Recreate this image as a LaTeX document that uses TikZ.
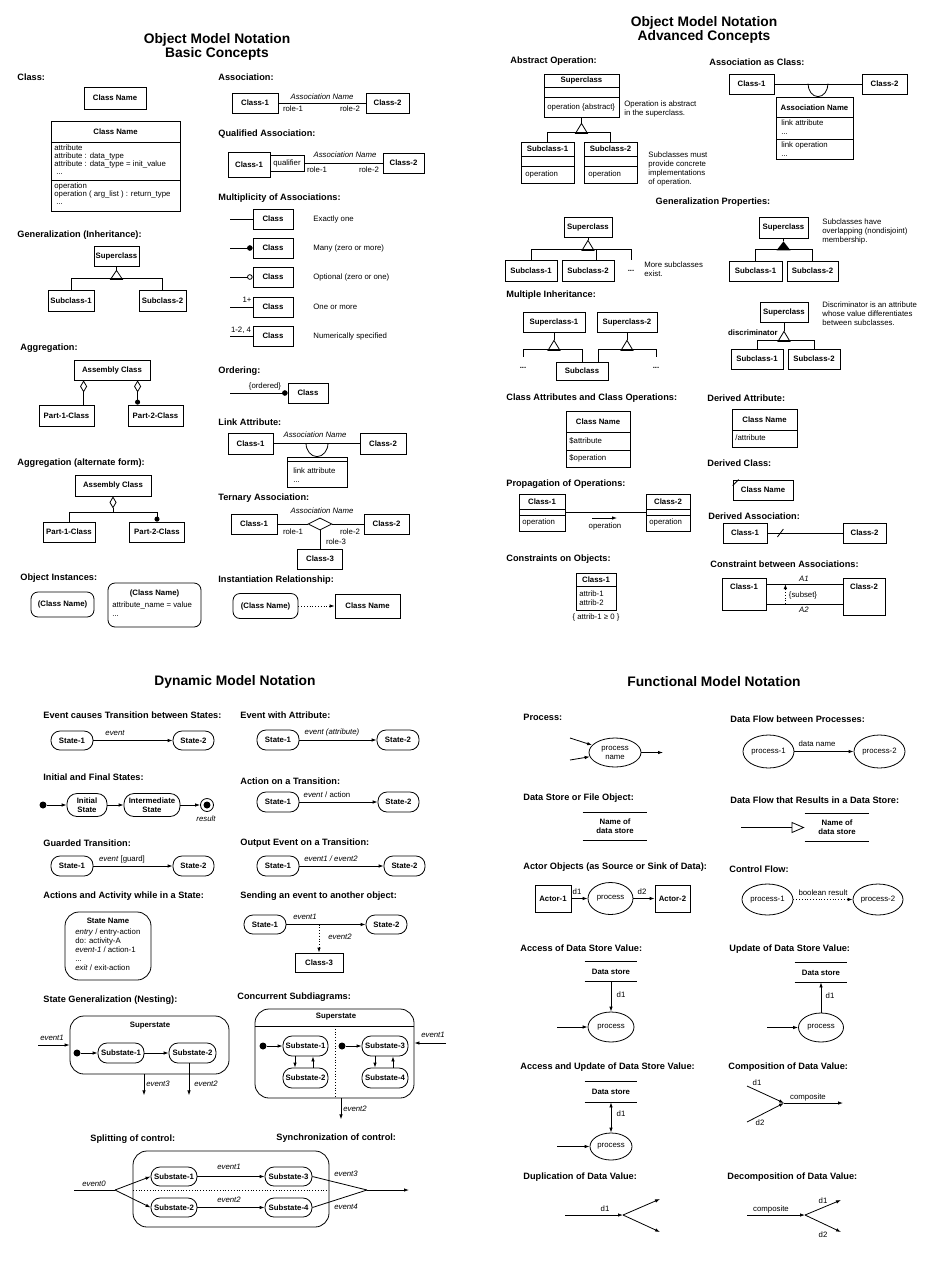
\documentclass[tikz,border=0pt]{standalone}
\usepackage{fontspec}
\setmainfont{Liberation Sans}
\usepackage{tikz}
\usetikzlibrary{arrows.meta,shapes,positioning}

\begin{document}
\begin{tikzpicture}[
        x=1pt, y=-1pt,
        line width=.8pt,
        >={Latex[length=5pt,width=3.5pt]},
        ttl/.style={align=center, inner sep=0pt, font=\bfseries\fontsize{13.8}{14}\selectfont},
        heading/.style={anchor=west, inner sep=0pt, font=\bfseries\fontsize{9.2}{11}\selectfont},
        classbox/.style={draw, inner sep=0pt, align=center, font=\bfseries\fontsize{7.8}{9}\selectfont},
        objbox/.style={classbox, rounded corners=7pt},
        statebox/.style={classbox, rounded corners=9pt},
        process/.style={draw, ellipse, inner sep=0pt, align=center, font=\fontsize{7.8}{9}\selectfont},
        storebox/.style={inner sep=0pt, align=center, font=\bfseries\fontsize{7.8}{9}\selectfont},
        bname/.style={inner sep=0pt, font=\bfseries\fontsize{7.8}{9}\selectfont},
        txt/.style={inner sep=0pt, align=left, font=\fontsize{7.8}{9}\selectfont},
        evt/.style={inner sep=0pt, font=\itshape\fontsize{7.8}{9}\selectfont},
        initdot/.style={circle, fill, inner sep=0pt, minimum size=7pt}
    ]

    \path[fill=white, use as bounding box] (0,0) rectangle (946,1280);

    % ===== Object Model Notation: Basic Concepts =====
    \node[ttl] (tbasic) at (217,47) {Object Model Notation\\Basic Concepts};

    % Class
    \node[heading] (hclass) at (17,77) {Class:};
    \node[classbox, minimum width=62, minimum height=22] (cname) at (115,98) {Class Name};
    \node[classbox, minimum width=129, minimum height=90] (cfull) at (115.5,166) {};
    \node[bname] (cfulln) at (115.5,131.5) {Class Name};
    \draw (51,142) -- (180,142) (51,180) -- (180,180);
    \node[txt, anchor=west, font=\fontsize{7.8}{8}\selectfont] (cattr) at (54,160)
        {attribute\\attribute : data\_type\\attribute : data\_type = init\_value\\\hspace*{2pt}...};
    \node[txt, anchor=west, font=\fontsize{7.8}{8}\selectfont] (cops) at (54,194)
        {operation\\operation ( arg\_list ) : return\_type\\\hspace*{2pt}...};

    % Association
    \node[heading] (hassoc) at (218,77) {Association:};
    \node[classbox, minimum width=46, minimum height=20] (asc1) at (255,103) {Class-1};
    \node[classbox, minimum width=43, minimum height=20] (asc2) at (387.5,103) {Class-2};
    \draw (asc1) -- (asc2);
    \node[evt] (ascname) at (322,97) {Association Name};
    \node[txt] (ascr1) at (293,109) {role-1};
    \node[txt] (ascr2) at (350,109) {role-2};

    % Qualified Association
    \node[heading] (hqual) at (218,134) {Qualified Association:};
    \node[classbox, minimum width=42, minimum height=25] (qc1) at (249,164.5) {Class-1};
    \node[draw, txt, align=center, minimum width=34, minimum height=16] (qq) at (287,163) {qualifier};
    \node[classbox, minimum width=41, minimum height=20] (qc2) at (403.5,163) {Class-2};
    \draw (qq) -- (qc2);
    \node[evt] (qname) at (345,155) {Association Name};
    \node[txt] (qr1) at (317,170) {role-1};
    \node[txt] (qr2) at (369,170) {role-2};

    % Multiplicity of Associations
    \node[heading] (hmult) at (218,198) {Multiplicity of Associations:};
    \node[classbox, minimum width=40, minimum height=20] (mone) at (273,219) {Class};
    \node[classbox, minimum width=40, minimum height=20] (mmany) at (273,248) {Class};
    \node[classbox, minimum width=40, minimum height=20] (mopt) at (273,277) {Class};
    \node[classbox, minimum width=40, minimum height=20] (mplus) at (273,307) {Class};
    \node[classbox, minimum width=40, minimum height=20] (mnum) at (273,336) {Class};
    \coordinate (mones) at (230,219);
    \coordinate (mmanys) at (230,248);
    \coordinate (mopts) at (230,277);
    \coordinate (mpluss) at (230,307);
    \coordinate (mnums) at (230,336);
    \draw (mones) -- (mone);
    \draw[-{Circle[length=5.5pt]}] (mmanys) -- (mmany);
    \draw[-{Circle[open,length=5.5pt]}] (mopts) -- (mopt);
    \draw (mpluss) -- (mplus);
    \draw (mnums) -- (mnum);
    \node[txt] (mplusl) at (247,300) {1+};
    \node[txt] (mnuml) at (241,330) {1-2, 4};
    \node[txt, anchor=west] (mdone) at (313,219) {Exactly one};
    \node[txt, anchor=west] (mdmany) at (313,248) {Many (zero or more)};
    \node[txt, anchor=west] (mdopt) at (313,277) {Optional (zero or one)};
    \node[txt, anchor=west] (mdplus) at (313,307) {One or more};
    \node[txt, anchor=west] (mdnum) at (313,336) {Numerically specified};

    % Generalization
    \node[heading] (hgen) at (17,235) {Generalization (Inheritance):};
    \node[classbox, minimum width=45, minimum height=20] (gsup) at (116.5,256) {Superclass};
    \node[classbox, minimum width=46, minimum height=21] (gsub1) at (71,300.5) {Subclass-1};
    \node[classbox, minimum width=47, minimum height=21] (gsub2) at (162.5,300.5) {Subclass-2};
    \draw (gsup.south) -- ++(0,4) coordinate (gapex);
    \draw (gapex) -- ++(-6,9) -- ++(12,0) -- cycle;
    \draw (gsub1.north) -- ++(0,-11) -| (gsub2.north);

    % Aggregation
    \node[heading] (hagg) at (20,348) {Aggregation:};
    \node[classbox, minimum width=76, minimum height=20] (agasm) at (112,370) {Assembly Class};
    \node[classbox, minimum width=55, minimum height=21] (agp1) at (66.5,415.5) {Part-1-Class};
    \node[classbox, minimum width=55, minimum height=21] (agp2) at (155.5,415.5) {Part-2-Class};
    \draw[{Diamond[open,length=12pt,width=7pt]}-] ([xshift=10pt]agasm.south west) -- ([xshift=45pt]agp1.north west);
    \draw[{Diamond[open,length=12pt,width=7pt]}-{Circle[length=5pt]}] ([xshift=64pt]agasm.south west) -- ([xshift=10pt]agp2.north west);

    % Aggregation (alternate form)
    \node[heading] (hagg2) at (17,463) {Aggregation (alternate form):};
    \node[classbox, minimum width=76, minimum height=21] (aaasm) at (113,485.5) {Assembly Class};
    \node[classbox, minimum width=52, minimum height=20] (aap1) at (69,532) {Part-1-Class};
    \node[classbox, minimum width=55, minimum height=20] (aap2) at (157,532) {Part-2-Class};
    \draw[{Diamond[open,length=12pt,width=7pt]}-] (aaasm.south) -- ++(0,16) coordinate (aajoin);
    \draw (aajoin) -| (aap1.north);
    \draw[-{Circle[length=5pt]}] (aajoin) -| (aap2.north);

    % Object Instances
    \node[heading] (hobj) at (20,578) {Object Instances:};
    \node[objbox, minimum width=63, minimum height=25] (oi1) at (62.5,604.5) {(Class Name)};
    \node[objbox, minimum width=93, minimum height=44] (oi2) at (154.5,605) {};
    \node[bname] (oi2n) at (154.5,593) {(Class Name)};
    \node[txt, anchor=west] (oi2a) at (112,609.5) {attribute\_name = value\\...};

    % Ordering
    \node[heading] (hord) at (218,371) {Ordering:};
    \node[classbox, minimum width=40, minimum height=20] (ordc) at (308,393) {Class};
    \coordinate (ords) at (230,393);
    \draw[-{Circle[length=5.5pt]}] (ords) -- (ordc);
    \node[txt] (ordl) at (265,386) {\{ordered\}};

    % Link Attribute
    \node[heading] (hlink) at (218,422) {Link Attribute:};
    \node[classbox, minimum width=45, minimum height=21] (lac1) at (250.5,443.5) {Class-1};
    \node[classbox, minimum width=46, minimum height=21] (lac2) at (383,443.5) {Class-2};
    \draw (lac1) -- (lac2);
    \node[evt] (laname) at (315,435) {Association Name};
    \node[classbox, minimum width=60, minimum height=30] (labox) at (317,472) {};
    \draw (287,461.5) -- (347,461.5);
    \node[txt, anchor=west] (latxt) at (293,475.5) {link attribute\\...};
    \draw ([xshift=-11pt,yshift=13.5pt]labox.north) arc[start angle=180, end angle=0, x radius=11, y radius=13.5];

    % Ternary Association
    \node[heading] (hter) at (218,498) {Ternary Association:};
    \node[classbox, minimum width=46, minimum height=20] (tc1) at (254,524) {Class-1};
    \node[classbox, minimum width=45, minimum height=20] (tc2) at (386.5,524) {Class-2};
    \node[draw, diamond, inner sep=0pt, minimum width=24, minimum height=12] (tdia) at (320,524) {};
    \node[classbox, minimum width=45, minimum height=20] (tc3) at (320,559) {Class-3};
    \draw (tc1) -- (tdia);
    \draw (tdia) -- (tc2);
    \draw (tdia) -- (tc3);
    \node[evt] (tname) at (322,511) {Association Name};
    \node[txt] (tr1) at (293,532) {role-1};
    \node[txt] (tr2) at (350,532) {role-2};
    \node[txt] (tr3) at (336,542) {role-3};

    % Instantiation Relationship
    \node[heading] (hinst) at (218,580) {Instantiation Relationship:};
    \node[objbox, minimum width=65, minimum height=25] (inobj) at (265.5,606) {(Class Name)};
    \node[classbox, minimum width=65, minimum height=24] (incls) at (367.5,606) {Class Name};
    \draw[->, dotted] (inobj) -- (incls);

    % ===== Object Model Notation: Advanced Concepts =====
    \node[ttl] (tadv) at (704,30) {Object Model Notation\\Advanced Concepts};

    % Abstract Operation
    \node[heading] (habs) at (510,61) {Abstract Operation:};
    \node[classbox, minimum width=75, minimum height=43] (absup) at (581.5,95.5) {};
    \node[bname] (absupn) at (581.5,80.5) {Superclass};
    \draw (544,87) -- (619,87) (544,97) -- (619,97);
    \node[txt, anchor=west] (absupo) at (547,107) {operation \{abstract\}};
    \node[txt, anchor=west] (absnote1) at (624,109) {Operation is abstract\\in the superclass.};
    \node[classbox, minimum width=53, minimum height=41] (absub1) at (547.5,162.5) {};
    \node[bname] (absub1n) at (547.5,149) {Subclass-1};
    \draw (521,156) -- (574,156) (521,166) -- (574,166);
    \node[txt, anchor=west] (absub1o) at (525,174.5) {operation};
    \node[classbox, minimum width=53, minimum height=41] (absub2) at (610.5,162.5) {};
    \node[bname] (absub2n) at (610.5,149) {Subclass-2};
    \draw (584,156) -- (637,156) (584,166) -- (637,166);
    \node[txt, anchor=west] (absub2o) at (588,174.5) {operation};
    \node[txt, anchor=west] (absnote2) at (648,169) {Subclasses must\\provide concrete\\implementations\\of operation.};
    \draw (absup.south) -- ++(0,6) coordinate (absapex);
    \draw (absapex) -- ++(-6,10) -- ++(12,0) -- cycle;
    \draw (absub1.north) -- ++(0,-9) -| (absub2.north);

    % Association as Class
    \node[heading] (hascls) at (709,62) {Association as Class:};
    \node[classbox, minimum width=45, minimum height=20] (acc1) at (751.5,84) {Class-1};
    \node[classbox, minimum width=45, minimum height=20] (acc2) at (884.5,84) {Class-2};
    \draw (acc1) -- (acc2);
    \node[classbox, minimum width=77, minimum height=62] (acbox) at (814.5,128) {};
    \node[bname] (acboxn) at (814.5,107.5) {Association Name};
    \draw (776,117) -- (853,117) (776,139) -- (853,139);
    \node[txt, anchor=west] (acattr) at (781,127.5) {link attribute\\...};
    \node[txt, anchor=west] (acop) at (781,149.5) {link operation\\...};
    \draw ([xshift=-6.5pt,yshift=13pt]acbox.north) arc[start angle=180, end angle=0, x radius=10, y radius=13];

    % Generalization Properties
    \node[heading, anchor=center] (hgprop) at (713,202) {Generalization Properties:};
    \node[classbox, minimum width=48, minimum height=20] (gpsup) at (588,227) {Superclass};
    \node[classbox, minimum width=52, minimum height=21] (gpsub1) at (531,270.5) {Subclass-1};
    \node[classbox, minimum width=52, minimum height=21] (gpsub2) at (588,270.5) {Subclass-2};
    \draw (gpsup.south) -- ++(0,3) coordinate (gpapex);
    \draw (gpapex) -- ++(-6,10) -- ++(12,0) -- cycle;
    \draw (gpsub1.north) -- ++(0,-10) -- ++(100,0) -- ++(0,10) coordinate (gpmore);
    \draw ([xshift=35pt]gpsub2.north west) -- ++(0,-10);
    \node[bname] (gpdots) at (631,271) {...};
    \node[txt, anchor=west] (gpnote) at (644,269.5) {More subclasses\\exist.};

    \node[classbox, minimum width=49, minimum height=21] (gosup) at (783.5,227.5) {Superclass};
    \node[classbox, minimum width=53, minimum height=20] (gosub1) at (755.5,271) {Subclass-1};
    \node[classbox, minimum width=51, minimum height=20] (gosub2) at (812.5,271) {Subclass-2};
    \draw (gosup.south) -- ++(0,3) coordinate (goapex);
    \fill (goapex) -- ++(-7,9) -- ++(14,0) -- cycle;
    \draw (gosub1.north) -- ++(0,-11) -| (gosub2.north);
    \node[txt, anchor=west] (gonote) at (822,231) {Subclasses have\\overlapping (nondisjoint)\\membership.};

    % Multiple Inheritance
    \node[heading] (hmulti) at (506,295) {Multiple Inheritance:};
    \node[classbox, minimum width=62, minimum height=20] (misup1) at (554,322) {Superclass-1};
    \node[classbox, minimum width=60, minimum height=20] (misup2) at (627,322) {Superclass-2};
    \node[classbox, minimum width=52, minimum height=18] (misub) at (582,371) {Subclass};
    \draw (misup1.south) -- ++(0,8) coordinate (miapex1);
    \draw (miapex1) -- ++(-6,10) -- ++(12,0) -- cycle;
    \draw (misup2.south) -- ++(0,8) coordinate (miapex2);
    \draw (miapex2) -- ++(-6,10) -- ++(12,0) -- cycle;
    \draw (misub.north) -- ++(0,-12) -- ++(-59,0) -- ++(0,7) coordinate (mimore1);
    \draw ([xshift=16pt]misub.north) -- ++(0,-12) -- ++(58,0) -- ++(0,7) coordinate (mimore2);
    \node[bname] (midots1) at (523,368) {...};
    \node[bname] (midots2) at (656,368) {...};

    \node[classbox, minimum width=48, minimum height=20] (disup) at (784,312) {Superclass};
    \node[classbox, minimum width=52, minimum height=20] (disub1) at (757,359) {Subclass-1};
    \node[classbox, minimum width=52, minimum height=20] (disub2) at (814,359) {Subclass-2};
    \draw (disup.south) -- ++(0,9) coordinate (diapex);
    \draw (diapex) -- ++(-6,10) -- ++(12,0) -- cycle;
    \draw (disub1.north) -- ++(0,-8) -| (disub2.north);
    \node[bname, anchor=east] (didisc) at (778,333) {discriminator};
    \node[txt, anchor=west] (dinote) at (822,314) {Discriminator is an attribute\\whose value differentiates\\between subclasses.};

    % Class Attributes and Class Operations
    \node[heading] (hcattr) at (506,398) {Class Attributes and Class Operations:};
    \node[classbox, minimum width=64, minimum height=56] (cacls) at (598,439) {};
    \node[bname] (caclsn) at (598,421.5) {Class Name};
    \draw (566,432) -- (630,432) (566,450) -- (630,450);
    \node[txt, anchor=west] (caattr) at (569,440.5) {\$attribute};
    \node[txt, anchor=west] (caop) at (569,458.5) {\$operation};

    % Derived Attribute
    \node[heading] (hdattr) at (707,398) {Derived Attribute:};
    \node[classbox, minimum width=65, minimum height=38] (dacls) at (764.5,428) {};
    \node[bname] (daclsn) at (764.5,419.5) {Class Name};
    \draw (732,430) -- (797,430);
    \node[txt, anchor=west] (daattr) at (735,438) {/attribute};

    % Propagation of Operations
    \node[heading] (hprop) at (506,484) {Propagation of Operations:};
    \node[classbox, minimum width=46, minimum height=37] (pocls1) at (542,512.5) {};
    \node[bname] (pocls1n) at (542,501.5) {Class-1};
    \draw (519,509) -- (565,509) (519,515) -- (565,515);
    \node[txt, anchor=west] (pocls1o) at (522,522.5) {operation};
    \node[classbox, minimum width=44, minimum height=37] (pocls2) at (668,512.5) {};
    \node[bname] (pocls2n) at (668,501.5) {Class-2};
    \draw (646,509) -- (690,509) (646,515) -- (690,515);
    \node[txt, anchor=west] (pocls2o) at (649,522.5) {operation};
    \draw (pocls1) -- (pocls2);
    \coordinate (poa) at (592,518);
    \coordinate (pob) at (617,518);
    \draw[->] (poa) -- (pob);
    \node[txt] (pol) at (605,526) {operation};

    % Derived Class
    \node[heading] (hdcls) at (707,463) {Derived Class:};
    \node[classbox, minimum width=60, minimum height=20] (dccls) at (763,490) {Class Name};
    \draw ([yshift=-6pt]dccls.north west) -- ([xshift=6pt]dccls.north west);

    % Derived Association
    \node[heading] (hdasc) at (708,516) {Derived Association:};
    \node[classbox, minimum width=44, minimum height=20] (dsc1) at (745,533) {Class-1};
    \node[classbox, minimum width=43, minimum height=20] (dsc2) at (864.5,533) {Class-2};
    \draw (dsc1) -- (dsc2);
    \draw ([xshift=10pt,yshift=-4pt]dsc1.east) -- ([xshift=16pt,yshift=4pt]dsc1.east);

    % Constraints on Objects
    \node[heading] (hcons) at (506,559) {Constraints on Objects:};
    \node[classbox, minimum width=40, minimum height=37] (cocls) at (596,591.5) {};
    \node[bname] (coclsn) at (596,579.5) {Class-1};
    \draw (576,586) -- (616,586);
    \node[txt, anchor=west] (coattr) at (579,598.5) {attrib-1\\attrib-2};
    \node[txt] (cocons) at (596,617) {\{ attrib-1 ≥ 0 \}};

    % Constraint between Associations
    \node[heading] (hcba) at (710,564) {Constraint between Associations:};
    \node[classbox, minimum width=44, minimum height=32] (cbc1) at (744,594) {};
    \node[bname] (cbc1n) at (744,587) {Class-1};
    \node[classbox, minimum width=42, minimum height=37] (cbc2) at (864,596.5) {};
    \node[bname] (cbc2n) at (864,587) {Class-2};
    \draw ([yshift=10pt]cbc1.east) -- ([yshift=12.5pt]cbc2.west);
    \draw ([yshift=-10pt]cbc1.east) -- ([yshift=-7.5pt]cbc2.west);
    \draw[->, dotted] ([xshift=19pt,yshift=-10pt]cbc1.east) -- ([xshift=19pt,yshift=10pt]cbc1.east);
    \node[evt] (cba1) at (804,579) {A1};
    \node[evt] (cba2) at (804,610) {A2};
    \node[txt] (cbsub) at (803,595) {\{subset\}};

    % ===== Dynamic Model Notation =====
    \node[ttl] (tdyn) at (235,682) {Dynamic Model Notation};

    % Event causes Transition between States
    \node[heading] (hevt) at (43,715) {Event causes Transition between States:};
    \node[statebox, minimum width=42, minimum height=19] (etst1) at (72,740.5) {State-1};
    \node[statebox, minimum width=41, minimum height=19] (etst2) at (193.5,740.5) {State-2};
    \draw[->] (etst1) -- (etst2);
    \node[evt] (etl) at (115,733) {event};

    % Event with Attribute
    \node[heading] (hevta) at (240,715) {Event with Attribute:};
    \node[statebox, minimum width=42, minimum height=20] (eatst1) at (278,740) {State-1};
    \node[statebox, minimum width=42, minimum height=20] (eatst2) at (398,740) {State-2};
    \draw[->] (eatst1) -- (eatst2);
    \node[evt] (eatl) at (332,732) {event (attribute)};

    % Initial and Final States
    \node[heading] (hinit) at (43,777) {Initial and Final States:};
    \node[initdot] (ifstart) at (43,805) {};
    \node[statebox, minimum width=40, minimum height=23, rounded corners=10pt] (ifinit) at (87,805) {Initial\\State};
    \node[statebox, minimum width=56, minimum height=23, rounded corners=10pt] (ifmid) at (152,805) {Intermediate\\State};
    \node[circle, draw, inner sep=0pt, minimum size=13pt] (ifend) at (207,805) {};
    \fill (ifend) circle (3.5);
    \draw[->] (ifstart) -- (ifinit);
    \draw[->] (ifinit) -- (ifmid);
    \draw[->] (ifmid) -- (ifend);
    \node[evt] (ifres) at (206,819) {result};

    % Action on a Transition
    \node[heading] (hact) at (240,781) {Action on a Transition:};
    \node[statebox, minimum width=42, minimum height=20] (acst1) at (278,802) {State-1};
    \node[statebox, minimum width=41, minimum height=20] (acst2) at (398.5,802) {State-2};
    \draw[->] (acst1) -- (acst2);
    \node[txt] (acl) at (327,795) {\textit{event} / action};

    % Guarded Transition
    \node[heading] (hguard) at (43,843) {Guarded Transition:};
    \node[statebox, minimum width=42, minimum height=20] (gtst1) at (72,866) {State-1};
    \node[statebox, minimum width=41, minimum height=20] (gtst2) at (193.5,866) {State-2};
    \draw[->] (gtst1) -- (gtst2);
    \node[txt] (gtl) at (122,859) {\textit{event} [guard]};

    % Output Event on a Transition
    \node[heading] (hout) at (240,843) {Output Event on a Transition:};
    \node[statebox, minimum width=42, minimum height=20] (oest1) at (278,866) {State-1};
    \node[statebox, minimum width=41, minimum height=20] (oest2) at (404.5,866) {State-2};
    \draw[->] (oest1) -- (oest2);
    \node[evt] (oel) at (331,859) {event1 / event2};

    % Actions and Activity while in a State
    \node[heading] (hactv) at (43,896) {Actions and Activity while in a State:};
    \node[statebox, minimum width=86, minimum height=68, rounded corners=14pt] (aabox) at (108,946) {};
    \node[bname] (aaname) at (108,921) {State Name};
    \node[txt, anchor=west] (aatxt) at (75,950)
        {\textit{entry} / entry-action\\do: activity-A\\\textit{event-1} / action-1\\...\\\textit{exit} / exit-action};

    % Sending an event to another object
    \node[heading] (hsend) at (240,896) {Sending an event to another object:};
    \node[statebox, minimum width=42, minimum height=19] (sest1) at (265,924.5) {State-1};
    \node[statebox, minimum width=41, minimum height=19] (sest2) at (386.5,924.5) {State-2};
    \node[classbox, minimum width=48, minimum height=19] (secls) at (319,962.5) {Class-3};
    \draw[->] (sest1) -- (sest2);
    \draw[->, dotted] (secls.north |- sest1.east) -- (secls);
    \node[evt] (sel1) at (305,917) {event1};
    \node[evt] (sel2) at (340,937) {event2};

    % State Generalization (Nesting)
    \node[heading] (hnest) at (43,1000) {State Generalization (Nesting):};
    \node[statebox, minimum width=159, minimum height=58, rounded corners=14pt] (sgbox) at (149.5,1045) {};
    \node[bname] (sgname) at (150,1026) {Superstate};
    \node[initdot] (sgdot) at (77,1053) {};
    \node[statebox, minimum width=46, minimum height=20] (sgsub1) at (121,1053) {Substate-1};
    \node[statebox, minimum width=47, minimum height=20] (sgsub2) at (192.5,1053) {Substate-2};
    \coordinate (sgin) at (38,1045);
    \draw[->] (sgin) -- (sgbox.west);
    \draw[->] (sgdot) -- (sgsub1);
    \draw[->] (sgsub1) -- (sgsub2);
    \draw[->] ([xshift=-5.5pt]sgbox.south) -- ++(0,21) coordinate (sgout3);
    \draw[->] ([xshift=-3.5pt]sgsub2.south) -- ++(0,32) coordinate (sgout2);
    \node[evt] (sgl1) at (52,1038) {event1};
    \node[evt] (sgl3) at (158,1084) {event3};
    \node[evt] (sgl2) at (206,1084) {event2};

    % Concurrent Subdiagrams
    \node[heading] (hconc) at (237,997) {Concurrent Subdiagrams:};
    \node[statebox, minimum width=159, minimum height=89, rounded corners=14pt] (csbox) at (334.5,1053.5) {};
    \node[bname] (csname) at (336,1017) {Superstate};
    \draw (255,1026) -- (414,1026);
    \draw[dotted] (335,1026) -- (335,1098);
    \node[initdot] (csdot1) at (263,1046) {};
    \node[statebox, minimum width=45, minimum height=20] (cssub1) at (305.5,1046) {Substate-1};
    \node[statebox, minimum width=45, minimum height=20] (cssub2) at (305.5,1078) {Substate-2};
    \node[initdot] (csdot2) at (342,1046) {};
    \node[statebox, minimum width=46, minimum height=20] (cssub3) at (385,1046) {Substate-3};
    \node[statebox, minimum width=46, minimum height=20] (cssub4) at (385,1078) {Substate-4};
    \draw[->] (csdot1) -- (cssub1);
    \draw[->] (csdot2) -- (cssub3);
    \draw[->] ([xshift=-10.5pt]cssub1.south) -- ([xshift=-10.5pt]cssub2.north);
    \draw[->] ([xshift=7.5pt]cssub2.north) -- ([xshift=7.5pt]cssub1.south);
    \draw[->] ([xshift=-10pt]cssub3.south) -- ([xshift=-10pt]cssub4.north);
    \draw[->] ([xshift=8pt]cssub4.north) -- ([xshift=8pt]cssub3.south);
    \coordinate (csin) at (446,1043);
    \draw[->] (csin) -- (csin -| csbox.east);
    \draw[->] ([xshift=6.5pt]csbox.south) -- ++(0,21) coordinate (csout);
    \node[evt] (csl1) at (433,1035) {event1};
    \node[evt] (csl2) at (355,1109) {event2};

    % Splitting and Synchronization of control
    \node[heading] (hsplit) at (90,1139) {Splitting of control:};
    \node[heading] (hsync) at (276,1138) {Synchronization of control:};
    \node[statebox, minimum width=196, minimum height=76, rounded corners=14pt] (spbox) at (231,1189) {};
    \draw[dotted] (133,1190) -- (329,1190);
    \node[statebox, minimum width=46, minimum height=19] (spsub1) at (174,1176.5) {Substate-1};
    \node[statebox, minimum width=47, minimum height=19] (spsub3) at (288.5,1176.5) {Substate-3};
    \node[statebox, minimum width=46, minimum height=19] (spsub2) at (174,1207.5) {Substate-2};
    \node[statebox, minimum width=47, minimum height=19] (spsub4) at (288.5,1207.5) {Substate-4};
    \draw[->] (spsub1) -- (spsub3);
    \draw[->] (spsub2) -- (spsub4);
    \coordinate (spin) at (74,1190);
    \coordinate (spfork) at (115,1190);
    \draw (spin) -- (spfork);
    \draw[->] (spfork) -- (spsub1.west);
    \draw[->] (spfork) -- (spsub2.west);
    \coordinate (spjoin) at (367,1190);
    \coordinate (spout) at (409,1190);
    \draw (spsub3.east) -- (spjoin);
    \draw (spsub4.east) -- (spjoin);
    \draw[->] (spjoin) -- (spout);
    \node[evt] (spl0) at (94,1184) {event0};
    \node[evt] (spl1) at (229,1167) {event1};
    \node[evt] (spl2) at (229,1200) {event2};
    \node[evt] (spl3) at (346,1174) {event3};
    \node[evt] (spl4) at (346,1207) {event4};

    % ===== Functional Model Notation =====
    \node[ttl] (tfun) at (714,682) {Functional Model Notation};

    % Process
    \node[heading] (hproc) at (523,717) {Process:};
    \node[process, minimum width=52, minimum height=29] (pproc) at (615,752.5) {process\\name};
    \coordinate (pin1) at (570,738);
    \coordinate (pin2) at (570,760);
    \coordinate (pout) at (663,752.5);
    \draw[->] (pin1) -- (pproc);
    \draw[->] (pin2) -- (pproc);
    \draw[->] (pproc) -- (pout);

    % Data Flow between Processes
    \node[heading] (hdflow) at (730,719) {Data Flow between Processes:};
    \node[process, minimum width=51, minimum height=33] (dfp1) at (768.5,751.5) {process-1};
    \node[process, minimum width=51, minimum height=33] (dfp2) at (879.5,751.5) {process-2};
    \draw[->] (dfp1) -- (dfp2);
    \node[txt] (dfl) at (817,744) {data name};

    % Data Store or File Object
    \node[heading] (hstore) at (523,798) {Data Store or File Object:};
    \node[storebox, minimum width=64, minimum height=27] (dsname) at (615,826.5) {Name of\\data store};
    \draw (dsname.north west) -- (dsname.north east) (dsname.south west) -- (dsname.south east);

    % Data Flow that Results in a Data Store
    \node[heading] (hdfstore) at (730,800) {Data Flow that Results in a Data Store:};
    \node[storebox, minimum width=64, minimum height=27] (dfstore) at (837,827.5) {Name of\\data store};
    \draw (dfstore.north west) -- (dfstore.north east) (dfstore.south west) -- (dfstore.south east);
    \coordinate (dfin) at (741,827.5);
    \draw[-{Triangle[open,length=13pt,width=11pt]}] (dfin) -- (dfstore.west);

    % Actor Objects
    \node[heading] (hactor) at (523,867) {Actor Objects (as Source or Sink of Data):};
    \node[classbox, minimum width=36, minimum height=27] (actor1) at (553,898.5) {Actor-1};
    \node[process, minimum width=45, minimum height=32] (actproc) at (610.5,898.5) {process};
    \node[classbox, minimum width=35, minimum height=27] (actor2) at (672.5,898.5) {Actor-2};
    \draw[->] (actor1) -- (actproc);
    \draw[->] (actproc) -- (actor2);
    \node[txt] (actd1) at (577,892) {d1};
    \node[txt] (actd2) at (642,892) {d2};

    % Control Flow
    \node[heading] (hctrl) at (729,869) {Control Flow:};
    \node[process, minimum width=51, minimum height=31] (cfp1) at (767.5,899.5) {process-1};
    \node[process, minimum width=50, minimum height=31] (cfp2) at (878,899.5) {process-2};
    \draw[->, dotted] (cfp1) -- (cfp2);
    \node[txt] (cfl) at (823,893) {boolean result};

    % Access of Data Store Value
    \node[heading] (hacc) at (520,948) {Access of Data Store Value:};
    \node[storebox, minimum width=52, minimum height=19] (acstore) at (611,971.5) {Data store};
    \draw (acstore.north west) -- (acstore.north east) (acstore.south west) -- (acstore.south east);
    \node[process, minimum width=46, minimum height=30] (acproc) at (611,1027) {process};
    \coordinate (acin) at (557,1027);
    \draw[->] (acstore) -- (acproc);
    \draw[->] (acin) -- (acproc);
    \node[txt] (acd1) at (621,995) {d1};

    % Update of Data Store Value
    \node[heading] (hupd) at (729,949) {Update of Data Store Value:};
    \node[storebox, minimum width=52, minimum height=19] (upstore) at (821,972.5) {Data store};
    \draw (upstore.north west) -- (upstore.north east) (upstore.south west) -- (upstore.south east);
    \node[process, minimum width=45, minimum height=29] (upproc) at (821,1027.5) {process};
    \coordinate (upin) at (767,1027.5);
    \draw[->] (upproc) -- (upstore);
    \draw[->] (upin) -- (upproc);
    \node[txt] (upd1) at (830,996) {d1};

    % Access and Update of Data Store Value
    \node[heading] (haccupd) at (520,1067) {Access and Update of Data Store Value:};
    \node[storebox, minimum width=52, minimum height=20] (austore) at (611,1092) {Data store};
    \draw (austore.north west) -- (austore.north east) (austore.south west) -- (austore.south east);
    \node[process, minimum width=42, minimum height=27] (auproc) at (611,1146.5) {process};
    \coordinate (auin) at (557,1146.5);
    \draw[<->] (austore) -- (auproc);
    \draw[->] (auin) -- (auproc);
    \node[txt] (aud1) at (621,1114) {d1};

    % Composition of Data Value
    \node[heading] (hcomp) at (728,1067) {Composition of Data Value:};
    \coordinate (cpd1) at (747,1086);
    \coordinate (cpd2) at (747,1122);
    \coordinate (cpjoin) at (784,1103);
    \coordinate (cpout) at (843,1103);
    \draw[->] (cpd1) -- (cpjoin);
    \draw[->] (cpd2) -- (cpjoin);
    \draw[->] (cpjoin) -- (cpout);
    \node[txt] (cpl1) at (757,1083) {d1};
    \node[txt] (cpl2) at (760,1123) {d2};
    \node[txt] (cplc) at (808,1097) {composite};

    % Duplication of Data Value
    \node[heading] (hdup) at (523,1177) {Duplication of Data Value:};
    \coordinate (dpin) at (565,1215);
    \coordinate (dpfork) at (623,1215);
    \coordinate (dpout1) at (660,1199);
    \coordinate (dpout2) at (660,1232);
    \draw[->] (dpin) -- (dpfork);
    \draw[->] (dpfork) -- (dpout1);
    \draw[->] (dpfork) -- (dpout2);
    \node[txt] (dpl1) at (605,1209) {d1};

    % Decomposition of Data Value
    \node[heading] (hdec) at (727,1177) {Decomposition of Data Value:};
    \coordinate (dcin) at (747,1215);
    \coordinate (dcfork) at (805,1215);
    \coordinate (dcout1) at (841,1200);
    \coordinate (dcout2) at (841,1232);
    \draw[->] (dcin) -- (dcfork);
    \draw[->] (dcfork) -- (dcout1);
    \draw[->] (dcfork) -- (dcout2);
    \node[txt] (dclc) at (771,1209) {composite};
    \node[txt] (dcl1) at (823,1201) {d1};
    \node[txt] (dcl2) at (823,1235) {d2};

\end{tikzpicture}
\end{document}
